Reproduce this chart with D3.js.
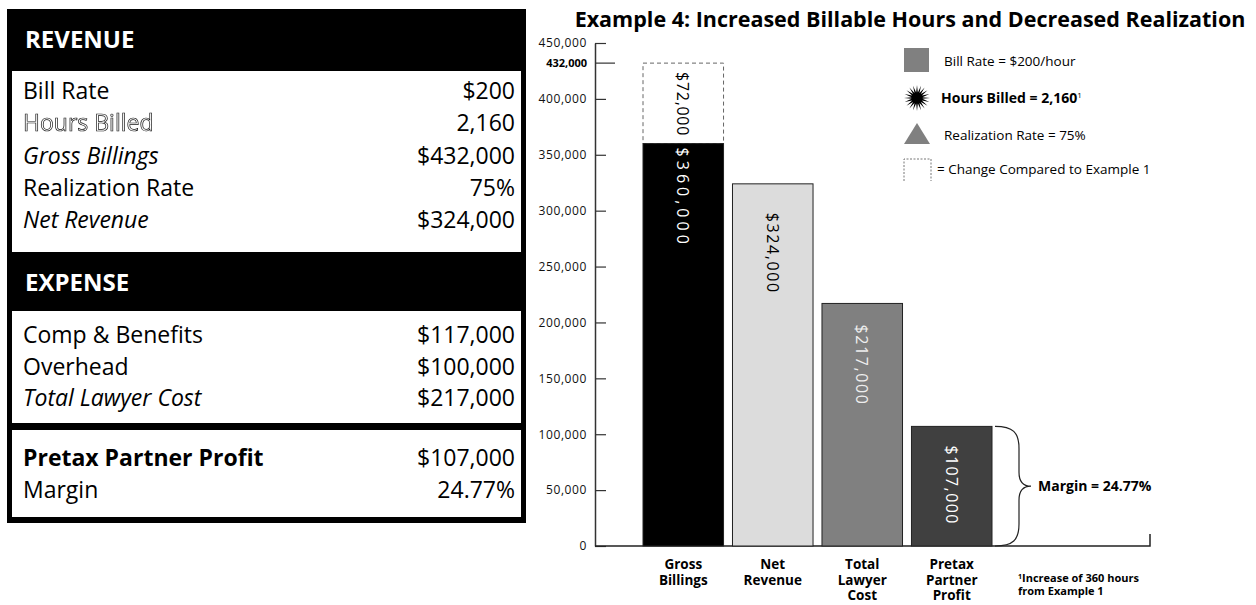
<!DOCTYPE html>
<html>
<head>
  <meta charset="utf-8">
  <title>Example 4: Increased Billable Hours and Decreased Realization</title>
  <script src="https://d3js.org/d3.v7.min.js"></script>
  <style>
    body, html {
      margin: 0;
      padding: 0;
      width: 100%;
      height: 100%;
      overflow: hidden;
      background: #fff;
    }
    svg {
      display: block;
      font-family: "Open Sans", "Noto Sans", sans-serif;
    }
  </style>
</head>
<body>
  <svg id="chart" width="1256" height="605"></svg>

  <script>
    // ---- data ----
    var categories = ["Gross Billings", "Net Revenue", "Total Lawyer Cost", "Pretax Partner Profit"];
    var categoryLines = [["Gross", "Billings"], ["Net", "Revenue"], ["Total", "Lawyer", "Cost"], ["Pretax", "Partner", "Profit"]];
    var values = [360000, 324000, 217000, 107000];
    var barLabels = ["$360,000", "$324,000", "$217,000", "$107,000"];
    var changeValue = 72000;          // dashed part on top of Gross Billings
    var changeLabel = "$72,000";
    var grossTotal = 432000;
    var yTicks = [0, 50000, 100000, 150000, 200000, 250000, 300000, 350000, 400000, 450000];

    var revenueRows = [
      ["Bill Rate", "$200", "normal"],
      ["Hours Billed", "2,160", "outline"],
      ["Gross Billings", "$432,000", "italic"],
      ["Realization Rate", "75%", "normal"],
      ["Net Revenue", "$324,000", "italic"]
    ];
    var expenseRows = [
      ["Comp & Benefits", "$117,000", "normal"],
      ["Overhead", "$100,000", "normal"],
      ["Total Lawyer Cost", "$217,000", "italic"]
    ];
    var profitRows = [
      ["Pretax Partner Profit", "$107,000", "bold"],
      ["Margin", "24.77%", "normal"]
    ];
    var legendItems = ["Bill Rate = $200/hour", "Hours Billed = 2,160", "Realization Rate = 75%", "= Change Compared to Example 1"];

    var svg = d3.select("#chart");

    // plain filter so the outlined label is drawn without colour fringes
    svg.append("defs").append("filter").attr("id", "flat")
      .append("feOffset").attr("dx", 0).attr("dy", 0);

    // ---- left table ----
    var table = svg.append("g");
    table.append("rect").attr("x", 7).attr("y", 9).attr("width", 519).attr("height", 514).attr("fill", "#000");
    table.append("rect").attr("x", 12).attr("y", 71).attr("width", 509).attr("height", 181).attr("fill", "#fff");
    table.append("rect").attr("x", 12).attr("y", 311).attr("width", 509).attr("height", 112).attr("fill", "#fff");
    table.append("rect").attr("x", 12).attr("y", 430).attr("width", 509).attr("height", 87).attr("fill", "#fff");

    function header(label, y) {
      table.append("text")
        .attr("x", 25).attr("y", y)
        .attr("fill", "#fff")
        .style("font-size", "24px").style("font-weight", "bold")
        .text(label);
    }
    header("REVENUE", 48);
    header("EXPENSE", 291);

    function rows(list, y0, step) {
      list.forEach(function(r, i) {
        var y = y0 + i * step;
        var t = table.append("text")
          .attr("x", 23).attr("y", y)
          .style("font-size", "23px")
          .text(r[0]);
        if (r[2] === "italic") t.style("font-style", "italic");
        if (r[2] === "bold") t.style("font-weight", "bold");
        if (r[2] === "outline") {
          t.attr("fill", "#fff").attr("stroke", "#111").attr("stroke-width", 0.7)
            .attr("filter", "url(#flat)");
        }
        table.append("text")
          .attr("x", 515).attr("y", y)
          .attr("text-anchor", "end")
          .style("font-size", "23px")
          .text(r[1]);
      });
    }
    rows(revenueRows, 99, 32.3);
    rows(expenseRows, 343, 31.5);
    rows(profitRows, 466, 32);

    // ---- chart ----
    var x0 = 595, yBase = 546;
    var yScale = d3.scaleLinear().domain([0, 450000]).range([yBase, 43]);
    var xScale = d3.scaleBand().domain(categories).range([643, 992]).paddingInner(0.1).paddingOuter(0);

    svg.append("text")
      .attr("x", 910).attr("y", 27)
      .attr("text-anchor", "middle")
      .style("font-size", "21.5px").style("font-weight", "bold")
      .text("Example 4: Increased Billable Hours and Decreased Realization");

    var yAxis = d3.axisLeft(yScale)
      .tickValues(yTicks)
      .tickFormat(d3.format(","))
      .tickSizeInner(-11)
      .tickSizeOuter(0)
      .tickPadding(8);

    var ag = svg.append("g")
      .attr("transform", "translate(" + x0 + ",0)")
      .call(yAxis);
    ag.select(".domain").attr("stroke", "#333").attr("stroke-width", 1.5);
    ag.selectAll(".tick line").attr("stroke", "#333").attr("stroke-width", 1.2);
    ag.selectAll(".tick text").style("font-size", "12px").style("letter-spacing", "0.6px").attr("fill", "#111")
      .style("font-family", "'Open Sans', sans-serif");

    // 432,000 marker
    svg.append("line")
      .attr("x1", x0).attr("x2", x0 + 20)
      .attr("y1", yScale(grossTotal)).attr("y2", yScale(grossTotal))
      .attr("stroke", "#333").attr("stroke-width", 1.2);
    svg.append("text")
      .attr("x", x0 - 8).attr("y", yScale(grossTotal) + 4)
      .attr("text-anchor", "end")
      .style("font-size", "11px").style("font-weight", "bold")
      .text(d3.format(",")(grossTotal));

    // baseline
    svg.append("path")
      .attr("d", "M" + x0 + "," + yBase + "H1150V" + (yBase - 12))
      .attr("fill", "none").attr("stroke", "#222").attr("stroke-width", 1.5);

    var fills = ["#000", "#dcdcdc", "#808080", "#404040"];
    var labelColors = ["#fff", "#000", "#eee", "#fff"];
    var labelPad = [4, 29, 21, 19];
    var labelSpacing = [4, 1.6, 1.6, 1.4];

    // dashed change bar above Gross Billings
    svg.append("rect")
      .attr("x", xScale(categories[0]))
      .attr("y", yScale(values[0] + changeValue))
      .attr("width", xScale.bandwidth())
      .attr("height", yScale(values[0]) - yScale(values[0] + changeValue))
      .attr("fill", "#fff").attr("stroke", "#666").attr("stroke-width", 1)
      .attr("stroke-dasharray", "4,3");

    svg.selectAll("rect.bar")
      .data(values)
      .join("rect")
      .attr("class", "bar")
      .attr("x", function(d, i) { return xScale(categories[i]); })
      .attr("y", function(d) { return yScale(d); })
      .attr("width", xScale.bandwidth())
      .attr("height", function(d) { return yBase - yScale(d); })
      .attr("fill", function(d, i) { return fills[i]; })
      .attr("stroke", "#222").attr("stroke-width", 1);

    function vlabel(txt, cx, y, color, ls) {
      svg.append("text")
        .attr("transform", "translate(" + cx + "," + y + ") rotate(90)")
        .attr("dominant-baseline", "central")
        .attr("fill", color)
        .style("font-size", "16px").style("letter-spacing", ls + "px")
        .text(txt);
    }
    values.forEach(function(d, i) {
      vlabel(barLabels[i], xScale(categories[i]) + xScale.bandwidth() / 2, yScale(d) + labelPad[i], labelColors[i], labelSpacing[i]);
    });
    vlabel(changeLabel, xScale(categories[0]) + xScale.bandwidth() / 2, yScale(values[0] + changeValue) + 9, "#000", 0.7);

    // category labels
    categoryLines.forEach(function(lines, i) {
      lines.forEach(function(l, j) {
        svg.append("text")
          .attr("x", xScale(categories[i]) + xScale.bandwidth() / 2)
          .attr("y", 569 + j * 15.5)
          .attr("text-anchor", "middle")
          .style("font-size", "13.5px").style("font-weight", "bold")
          .text(l);
      });
    });

    // brace + margin
    var bTop = yScale(values[3]), bBot = yBase, bMid = (bTop + bBot) / 2;
    var bx = 995, bv = 1019, bp = 1031;
    svg.append("path")
      .attr("d",
        "M" + bx + "," + bTop +
        "C" + (bx + 18) + "," + bTop + " " + bv + "," + (bTop + 6) + " " + bv + "," + (bTop + 22) +
        "L" + bv + "," + (bMid - 14) +
        "C" + bv + "," + (bMid - 3) + " " + (bv + 5) + "," + bMid + " " + bp + "," + bMid +
        "C" + (bv + 5) + "," + bMid + " " + bv + "," + (bMid + 3) + " " + bv + "," + (bMid + 14) +
        "L" + bv + "," + (bBot - 22) +
        "C" + bv + "," + (bBot - 6) + " " + (bx + 18) + "," + bBot + " " + bx + "," + bBot)
      .attr("fill", "none").attr("stroke", "#222").attr("stroke-width", 1.2);
    svg.append("text")
      .attr("x", 1038).attr("y", bMid + 5)
      .style("font-size", "14px").style("font-weight", "bold")
      .text("Margin = 24.77%");

    // legend
    var lg = svg.append("g");
    lg.append("rect").attr("x", 904).attr("y", 48).attr("width", 25).attr("height", 24).attr("fill", "#808080");
    lg.append("text").attr("x", 944).attr("y", 66).style("font-size", "13.5px").text(legendItems[0]);

    var burst = [];
    for (var k = 0; k < 40; k++) {
      var a = k * Math.PI / 20, r = (k % 2 === 0) ? 13 : 5.5;
      burst.push([917 + r * Math.sin(a), 98 - r * Math.cos(a)]);
    }
    lg.append("path").attr("d", "M" + burst.join("L") + "Z").attr("fill", "#000");
    var hb = lg.append("text").attr("x", 941).attr("y", 103).style("font-size", "14px").style("font-weight", "bold");
    hb.append("tspan").text(legendItems[1]);
    hb.append("tspan").attr("dy", -5).style("font-size", "8px").style("font-weight", "normal").text("1");

    lg.append("path").attr("d", "M917,123L930,144H904Z").attr("fill", "#808080");
    lg.append("text").attr("x", 944).attr("y", 140).style("font-size", "13.5px").text(legendItems[2]);

    lg.append("path").attr("d", "M904,181V159H931V181")
      .attr("fill", "none").attr("stroke", "#777").attr("stroke-width", 1).attr("stroke-dasharray", "2,1.5");
    lg.append("text").attr("x", 937).attr("y", 174).style("font-size", "13.5px").text(legendItems[3]);

    // footnote
    var fn = svg.append("text").attr("x", 1018).attr("y", 582).style("font-size", "11px").style("font-weight", "bold");
    fn.append("tspan").attr("dy", -3).style("font-size", "7px").text("1");
    fn.append("tspan").attr("dy", 3).text("Increase of 360 hours");
    svg.append("text").attr("x", 1018).attr("y", 595).style("font-size", "11px").style("font-weight", "bold")
      .text("from Example 1");
  </script>
</body>
</html>
